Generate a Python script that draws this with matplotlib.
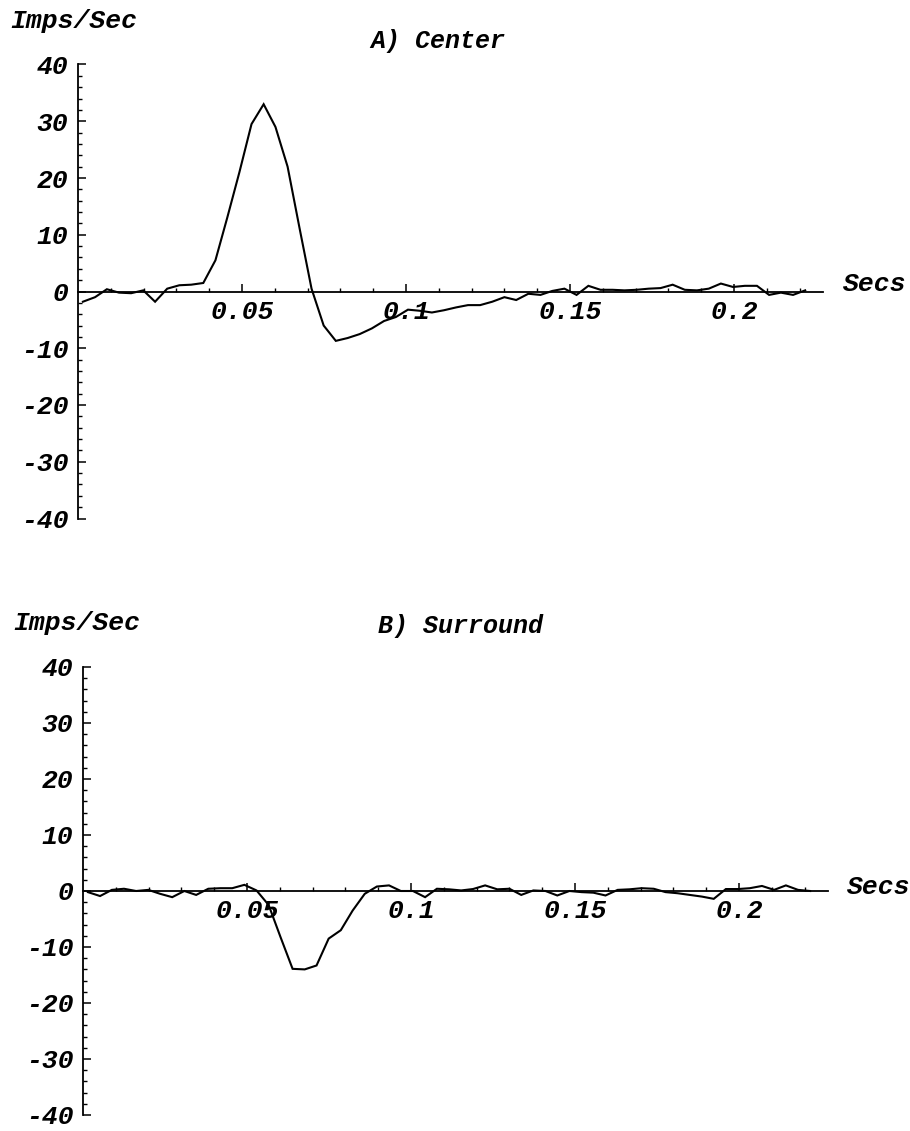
import matplotlib
matplotlib.use("Agg")
import matplotlib.pyplot as plt
from matplotlib.ticker import FixedLocator, MultipleLocator

# ---- data ----
time_s = [0.0015, 0.0052, 0.0088, 0.0125, 0.0162, 0.0199, 0.0235, 0.0272, 0.0309, 0.0345,
          0.0382, 0.0419, 0.0455, 0.0492, 0.0529, 0.0566, 0.0602, 0.0639, 0.0676, 0.0712,
          0.0749, 0.0786, 0.0822, 0.0859, 0.0896, 0.0933, 0.0969, 0.1006, 0.1043, 0.1079,
          0.1116, 0.1153, 0.1189, 0.1226, 0.1263, 0.1300, 0.1336, 0.1373, 0.1410, 0.1446,
          0.1483, 0.1520, 0.1556, 0.1593, 0.1630, 0.1666, 0.1703, 0.1740, 0.1776, 0.1813,
          0.1850, 0.1887, 0.1923, 0.1960, 0.1997, 0.2033, 0.2070, 0.2107, 0.2143, 0.2180,
          0.2217]

center_rate = [-1.8, -1.0, 0.4, -0.2, -0.3, 0.2, -1.8, 0.5, 1.1, 1.2,
               1.5, 5.5, 13.0, 21.0, 29.5, 33.0, 29.0, 22.0, 11.0, 0.5,
               -6.0, -8.7, -8.2, -7.5, -6.5, -5.2, -4.5, -3.2, -3.4, -3.7,
               -3.3, -2.8, -2.4, -2.4, -1.8, -1.0, -1.5, -0.4, -0.6, 0.1,
               0.5, -0.6, 1.0, 0.3, 0.3, 0.2, 0.3, 0.5, 0.6, 1.2,
               0.3, 0.2, 0.5, 1.4, 0.8, 1.0, 1.0, -0.6, -0.2, -0.6,
               0.2]

surround_rate = [-0.2, -0.9, 0.2, 0.4, 0.0, 0.2, -0.5, -1.1, 0.0, -0.7,
                 0.4, 0.5, 0.5, 1.1, 0.1, -2.5, -8.2, -13.9, -14.0, -13.3,
                 -8.5, -7.0, -3.5, -0.5, 0.8, 1.0, 0.0, 0.0, -1.1, 0.4,
                 0.3, 0.1, 0.35, 1.0, 0.3, 0.4, -0.7, 0.1, 0.0, -0.8,
                 0.0, -0.2, -0.3, -0.8, 0.2, 0.3, 0.5, 0.4, -0.2, -0.4,
                 -0.7, -1.0, -1.4, 0.35, 0.35, 0.5, 0.9, 0.2, 1.0, 0.2,
                 0.0]

x_major = [0.05, 0.1, 0.15, 0.2]
x_major_labels = ["0.05", "0.1", "0.15", "0.2"]
x_minor = [0.01, 0.02, 0.03, 0.04, 0.06, 0.07, 0.08, 0.09, 0.11, 0.12, 0.13, 0.14,
           0.16, 0.17, 0.18, 0.19, 0.21, 0.22]
y_major = [-40, -30, -20, -10, 0, 10, 20, 30, 40]
y_major_labels = ["-40", "-30", "-20", "-10", "0", "10", "20", "30", "40"]

panel_titles = ["A) Center", "B) Surround"]
y_label = "Imps/Sec"
x_label = "Secs"

# ---- figure ----
W, H = 910, 1131
fig = plt.figure(figsize=(W / 100, H / 100), dpi=100)
FONT = dict(family="Liberation Mono", style="italic", weight="bold")

def fx(px):
    return px / W

def fy(py):
    return 1 - py / H

XMAX = 0.227

def make_panel(left_px, top_px, bottom_px, series, title, title_xy, ylab_xy, secs_xy):
    right_px = left_px + XMAX * 3280
    ax = fig.add_axes([fx(left_px), fy(bottom_px), (right_px - left_px) / W,
                       (bottom_px - top_px) / H])
    ax.plot(time_s, series, color="black", lw=1.5, solid_joinstyle="miter")
    ax.set_xlim(0, XMAX)
    ax.set_ylim(-40, 40)
    ax.patch.set_alpha(0)
    for s in ["top", "right"]:
        ax.spines[s].set_visible(False)
    ax.spines["bottom"].set_position(("data", 0))
    ax.spines["bottom"].set_linewidth(1.3)
    ax.spines["left"].set_linewidth(1.3)
    ax.xaxis.set_major_locator(FixedLocator(x_major))
    ax.xaxis.set_minor_locator(FixedLocator(x_minor))
    ax.set_xticklabels(x_major_labels)
    ax.yaxis.set_major_locator(FixedLocator(y_major))
    ax.yaxis.set_minor_locator(MultipleLocator(2))
    ax.set_yticklabels(y_major_labels)
    ax.tick_params(axis="x", which="major", direction="in", length=6, width=1.1, pad=6)
    ax.tick_params(axis="x", which="minor", direction="in", length=3, width=1.0)
    ax.tick_params(axis="y", which="major", direction="in", length=6, width=1.1, pad=7)
    ax.tick_params(axis="y", which="minor", direction="in", length=3, width=1.0)
    for lab in ax.get_xticklabels() + ax.get_yticklabels():
        lab.set_fontfamily(FONT["family"])
        lab.set_fontstyle(FONT["style"])
        lab.set_fontweight(FONT["weight"])
        lab.set_fontsize(19)
    fig.text(fx(title_xy[0]), fy(title_xy[1]), title, ha="left", va="center",
             fontsize=18, **FONT)
    fig.text(fx(ylab_xy[0]), fy(ylab_xy[1]), y_label, ha="left", va="center",
             fontsize=19, **FONT)
    fig.text(fx(secs_xy[0]), fy(secs_xy[1]), x_label, ha="left", va="center",
             fontsize=19, **FONT)
    return ax

make_panel(78, 64.5, 518.5, center_rate, panel_titles[0], (370, 41), (10, 21), (843, 284))
make_panel(83, 667, 1115, surround_rate, panel_titles[1], (378, 626), (13, 623), (847, 887))

fig.savefig("out.png", dpi=100, facecolor="white")
